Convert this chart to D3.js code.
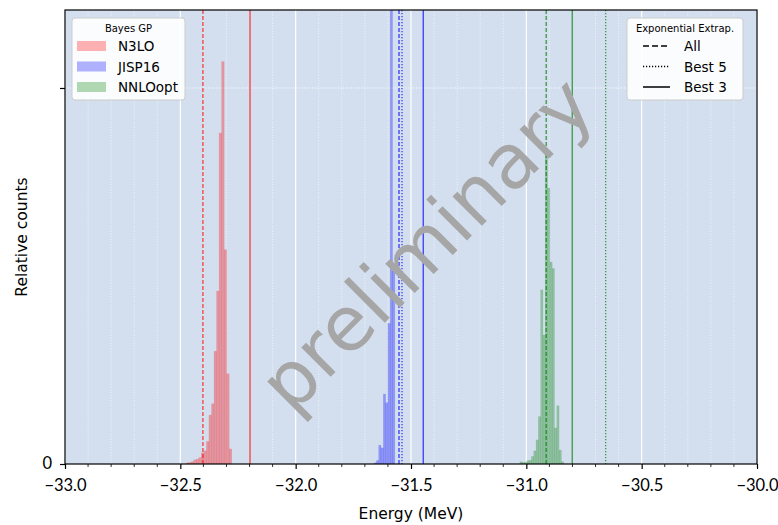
<!DOCTYPE html>
<html>
<head>
<meta charset="utf-8">
<script src="https://cdn.jsdelivr.net/npm/d3@7"></script>
<style>
body { margin: 0; background: #fff; }
</style>
</head>
<body>
<div class="chart"></div>
<script>

// histogram data (relative counts), uniform bins
var seriesNames = ['N3LO', 'JISP16', 'NNLOopt']
var seriesColors = ['#ff0000', '#0000ff', '#008000']
var binStart = [-32.475, -31.66, -31.028]
var binWidth = [0.011, 0.01, 0.01]
var n3loCounts = [0.003, 0.004, 0.006, 0.011, 0.013, 0.017, 0.03, 0.035, 0.06, 0.13, 0.16, 0.30, 0.46, 0.88, 1.07, 0.57, 0.24, 0.04]
var jispCounts = [0.003, 0.009, 0.05, 0.043, 0.186, 0.163, 0.374, 1.5, 0.527]
var nnloCounts = [0.006, 0.004, 0.005, 0.009, 0.01, 0.02, 0.035, 0.064, 0.126, 0.463, 0.343, 0.84, 0.734, 0.537, 0.52, 0.096, 0.155, 0.037, 0.006]
var allCounts = [n3loCounts, jispCounts, nnloCounts]

// exponential extrapolation results (MeV)
var extrapNames = ['All', 'Best 5', 'Best 3']
var extrapAll = [-32.402, -31.552, -30.914]
var extrapBest5 = [null, -31.539, -30.656]
var extrapBest3 = [-32.198, -31.447, -30.801]

var xTicks = [-33.0, -32.5, -32.0, -31.5, -31.0, -30.5, -30.0]
var yTicks = [0, 1]
var yTickLabels = ['0', '']

var margin = {top: 10, right: 21, bottom: 61, left: 65}
var width = 778 - margin.left - margin.right
var height = 525 - margin.top - margin.bottom
var tickFont = 'Lato'
var sans = 'DejaVu Sans'

var svg = d3.select('.chart').append('svg')
  .attr('width', 778)
  .attr('height', 525)

var g = svg.append('g')
  .attr('transform', 'translate(' + margin.left + ',' + margin.top + ')')

var x = d3.scaleLinear().domain([-33, -30]).range([0, width])
var y = d3.scaleLinear().domain([0, 1.2074]).range([height, 0])

g.append('rect')
  .attr('width', width)
  .attr('height', height)
  .attr('fill', '#d3dfef')

g.append('clipPath').attr('id', 'clip')
  .append('rect').attr('width', width).attr('height', height)

// grid
var minor = d3.range(-33, -29.95, 0.1).filter(function(v){
  return Math.abs(v*2 - Math.round(v*2)) > 0.01
})
g.selectAll('.minor-grid').data(minor).enter().append('line')
  .attr('x1', function(d){ return x(d) }).attr('x2', function(d){ return x(d) })
  .attr('y1', 0).attr('y2', height)
  .attr('stroke', '#fff').attr('stroke-opacity', 0.8)
  .attr('stroke-width', 0.8).attr('stroke-dasharray', '1,1.6')

g.selectAll('.major-grid').data(xTicks).enter().append('line')
  .attr('x1', function(d){ return x(d) }).attr('x2', function(d){ return x(d) })
  .attr('y1', 0).attr('y2', height)
  .attr('stroke', '#fff').attr('stroke-width', 1.2)

g.append('line')
  .attr('x1', 0).attr('x2', width)
  .attr('y1', y(1)).attr('y2', y(1))
  .attr('stroke', '#fff').attr('stroke-width', 1).attr('stroke-dasharray', '1,1.6')

// histograms
var plot = g.append('g').attr('clip-path', 'url(#clip)')

for (var s = 0; s < 3; s++) {
  var bins = allCounts[s].map(function(c, i){
    return {x0: binStart[s] + i*binWidth[s], x1: binStart[s] + (i+1)*binWidth[s], c: c}
  })
  plot.selectAll('.bar' + s).data(bins).enter().append('rect')
    .attr('x', function(d){ return x(d.x0) })
    .attr('width', function(d){ return x(d.x1) - x(d.x0) })
    .attr('y', function(d){ return y(d.c) })
    .attr('height', function(d){ return height - y(d.c) })
    .attr('fill', seriesColors[s])
    .attr('fill-opacity', 0.32)
    .attr('stroke', seriesColors[s])
    .attr('stroke-opacity', 0.12)
    .attr('stroke-width', 0.6)
}

// extrapolation lines
var dashes = ['4,2', '1.2,1.8', null]
var extrap = [extrapAll, extrapBest5, extrapBest3]
for (var k = 0; k < 3; k++) {
  for (var s = 0; s < 3; s++) {
    if (extrap[k][s] == null) continue
    plot.append('line')
      .attr('x1', x(extrap[k][s])).attr('x2', x(extrap[k][s]))
      .attr('y1', 0).attr('y2', height)
      .attr('stroke', seriesColors[s])
      .attr('stroke-opacity', 0.8)
      .attr('stroke-width', 1.2)
      .attr('stroke-dasharray', dashes[k])
  }
}

// watermark
g.append('text')
  .attr('transform', 'translate(' + (426 - margin.left) + ',' + (244 - margin.top) + ') rotate(-45)')
  .attr('text-anchor', 'middle')
  .attr('dy', '0.35em')
  .attr('font-family', sans)
  .attr('font-size', 76)
  .attr('fill', '#a6a6a6')
  .text('preliminary')

// axes
var xAxis = d3.axisBottom(x).tickValues(xTicks).tickSize(5).tickPadding(10)
  .tickFormat(function(d){ return d3.format('.1f')(d).replace('-', '\u2212') })
g.append('g').attr('transform', 'translate(0,' + height + ')')
  .call(xAxis)
  .call(function(a){
    a.select('.domain').remove()
    a.attr('font-family', tickFont).attr('font-size', 16.5)
    a.selectAll('line').attr('stroke-width', 1.2)
    a.selectAll('text').attr('fill', '#000')
  })

g.append('g').attr('transform', 'translate(0,' + height + ')')
  .selectAll('line').data(minor).enter().append('line')
  .attr('x1', function(d){ return x(d) }).attr('x2', function(d){ return x(d) })
  .attr('y1', 0).attr('y2', 3)
  .attr('stroke', '#000').attr('stroke-width', 0.8)

var yAxis = d3.axisLeft(y).tickValues(yTicks).tickSize(5).tickPadding(8)
  .tickFormat(function(d, i){ return yTickLabels[i] })
g.append('g')
  .call(yAxis)
  .call(function(a){
    a.select('.domain').remove()
    a.attr('font-family', tickFont).attr('font-size', 16.5)
    a.selectAll('line').attr('stroke-width', 1.2)
    a.selectAll('text').attr('fill', '#000').attr('dy', '0.3em')
  })

g.append('rect')
  .attr('width', width).attr('height', height)
  .attr('fill', 'none').attr('stroke', '#000').attr('stroke-width', 1.2)

svg.append('text')
  .attr('x', margin.left + width/2).attr('y', 519)
  .attr('text-anchor', 'middle')
  .attr('font-family', sans).attr('font-size', 15.5)
  .text('Energy (MeV)')

svg.append('text')
  .attr('transform', 'translate(27,' + (margin.top + height/2) + ') rotate(-90)')
  .attr('text-anchor', 'middle')
  .attr('font-family', sans).attr('font-size', 15.5)
  .text('Relative counts')

// legends
function legendBox(x0, title, w) {
  var lg = svg.append('g').attr('transform', 'translate(' + x0 + ',18)')
  lg.append('rect')
    .attr('width', w).attr('height', 82).attr('rx', 3)
    .attr('fill', '#fff').attr('fill-opacity', 0.9)
    .attr('stroke', '#ccc').attr('stroke-width', 1)
  lg.append('text')
    .attr('x', w/2).attr('y', 14)
    .attr('text-anchor', 'middle')
    .attr('font-family', sans).attr('font-size', 10)
    .text(title)
  return lg
}

var lg1 = legendBox(72, 'Bayes GP', 113)
seriesNames.forEach(function(name, i){
  lg1.append('rect')
    .attr('x', 5).attr('y', 23 + i*20.5).attr('width', 29).attr('height', 10)
    .attr('fill', seriesColors[i]).attr('fill-opacity', 0.3)
  lg1.append('text')
    .attr('x', 46).attr('y', 33 + i*20.5)
    .attr('font-family', sans).attr('font-size', 13.5)
    .text(name)
})

var legendDashes = ['6,3', '1.2,1.8', null]
var lg2 = legendBox(627, 'Exponential Extrap.', 116)
extrapNames.forEach(function(name, i){
  lg2.append('line')
    .attr('x1', 16).attr('x2', 43)
    .attr('y1', 28 + i*20.5).attr('y2', 28 + i*20.5)
    .attr('stroke', '#000').attr('stroke-width', 1.5)
    .attr('stroke-dasharray', legendDashes[i])
  lg2.append('text')
    .attr('x', 57).attr('y', 33 + i*20.5)
    .attr('font-family', sans).attr('font-size', 13.5)
    .text(name)
})

</script>
</body>
</html>
